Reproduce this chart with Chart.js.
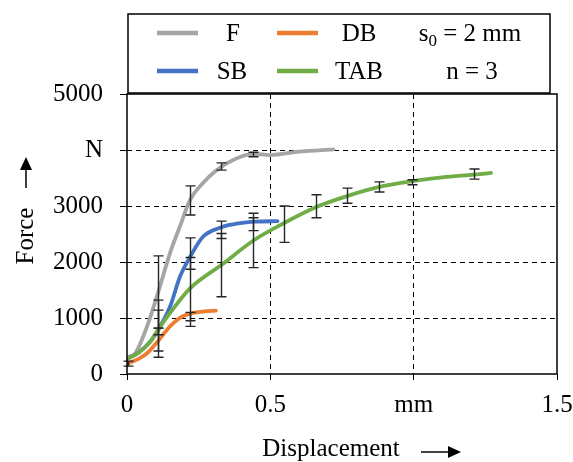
<!DOCTYPE html>
<html>
<head>
<meta charset="utf-8">
<script src="https://cdn.jsdelivr.net/npm/chart.js@4/dist/chart.umd.min.js"></script>
<style>
  html, body { margin: 0; padding: 0; background: #fff; }
  #wrap { width: 573px; height: 462px; }
</style>
</head>
<body>
<div id="wrap"><canvas id="myChart" width="573" height="462"></canvas></div>
<script>
(function () {
  "use strict";

  // axis ticks
  const xTickValues = [0, 0.5, 1, 1.5];
  const xTickLabels = ["0", "0.5", "mm", "1.5"];
  const yTickValues = [0, 1000, 2000, 3000, 4000, 5000];
  const yTickLabels = ["0", "1000", "2000", "3000", "N", "5000"];

  // series (displacement in mm, force in N)
  const seriesNames = ["F", "DB", "SB", "TAB"];

  const fX = [0, 0.03, 0.07, 0.11, 0.15, 0.185, 0.22, 0.265, 0.31, 0.37, 0.44, 0.5, 0.6, 0.72];
  const fY = [290, 380, 850, 1480, 2160, 2640, 3110, 3410, 3630, 3820, 3930, 3910, 3970, 4010];

  const dbX = [0, 0.04, 0.07, 0.11, 0.15, 0.19, 0.23, 0.27, 0.31];
  const dbY = [180, 270, 370, 600, 850, 1020, 1090, 1120, 1130];

  const sbX = [0, 0.04, 0.08, 0.11, 0.15, 0.185, 0.22, 0.265, 0.33, 0.39, 0.45, 0.525];
  const sbY = [270, 380, 570, 800, 1200, 1740, 2090, 2450, 2620, 2690, 2720, 2730];

  const tabX = [0, 0.04, 0.08, 0.11, 0.15, 0.22, 0.33, 0.44, 0.55, 0.66, 0.77, 0.88, 0.99, 1.1, 1.21, 1.27];
  const tabY = [270, 380, 570, 800, 1090, 1530, 1950, 2380, 2700, 2980, 3180, 3340, 3440, 3510, 3560, 3590];

  // error bars (x, lower, upper)
  const fErrX = [0.107, 0.221, 0.329, 0.439];
  const fErrLo = [700, 2840, 3640, 3880];
  const fErrHi = [2110, 3360, 3770, 3960];

  const dbErrX = [0.004, 0.107, 0.221];
  const dbErrLo = [140, 300, 850];
  const dbErrHi = [230, 820, 1100];

  const sbErrX = [0.107, 0.221, 0.329, 0.439];
  const sbErrLo = [410, 1870, 2420, 2560];
  const sbErrHi = [1320, 2430, 2730, 2870];

  const tabErrX = [0.107, 0.221, 0.329, 0.439, 0.549, 0.66, 0.767, 0.878, 0.993, 1.21];
  const tabErrLo = [820, 950, 1380, 1900, 2350, 2790, 3050, 3250, 3380, 3480];
  const tabErrHi = [1140, 2080, 2510, 2790, 3000, 3200, 3320, 3430, 3470, 3660];

  const colors = {
    F: "#a5a5a5",
    DB: "#ed7d31",
    SB: "#4472c4",
    TAB: "#70ad47",
  };

  const FONT = "'Liberation Serif', 'Times New Roman', serif";

  function pts(xs, ys) {
    return xs.map(function (x, i) { return { x: x, y: ys[i] }; });
  }

  const lineData = { F: pts(fX, fY), DB: pts(dbX, dbY), SB: pts(sbX, sbY), TAB: pts(tabX, tabY) };
  const errSets = [
    { x: fErrX, lo: fErrLo, hi: fErrHi },
    { x: dbErrX, lo: dbErrLo, hi: dbErrHi },
    { x: sbErrX, lo: sbErrLo, hi: sbErrHi },
    { x: tabErrX, lo: tabErrLo, hi: tabErrHi },
  ];

  // draw order: TAB under SB under DB, F on top
  const drawOrder = ["TAB", "SB", "DB", "F"];

  const datasets = drawOrder.map(function (name) {
    return {
      label: name,
      data: lineData[name],
      showLine: true,
      borderColor: colors[name],
      backgroundColor: colors[name],
      borderWidth: 3.8,
      pointRadius: 0,
      cubicInterpolationMode: "monotone",
      borderCapStyle: "round",
      fill: false,
    };
  });

  function arrow(ctx, x1, y1, x2, y2) {
    const ang = Math.atan2(y2 - y1, x2 - x1);
    const head = 13, half = 6;
    ctx.beginPath();
    ctx.moveTo(x1, y1);
    ctx.lineTo(x2 - head * Math.cos(ang), y2 - head * Math.sin(ang));
    ctx.lineWidth = 1.5;
    ctx.strokeStyle = "#000";
    ctx.stroke();
    ctx.beginPath();
    ctx.moveTo(x2, y2);
    ctx.lineTo(x2 - head * Math.cos(ang) + half * Math.sin(ang), y2 - head * Math.sin(ang) - half * Math.cos(ang));
    ctx.lineTo(x2 - head * Math.cos(ang) - half * Math.sin(ang), y2 - head * Math.sin(ang) + half * Math.cos(ang));
    ctx.closePath();
    ctx.fillStyle = "#000";
    ctx.fill();
  }

  const overlay = {
    id: "overlay",
    afterDatasetsDraw(chart) {
      const ctx = chart.ctx;
      const xs = chart.scales.x, ys = chart.scales.y;
      const a = chart.chartArea;

      // error bars
      ctx.save();
      ctx.strokeStyle = "#262626";
      ctx.lineWidth = 1.4;
      errSets.forEach(function (e) {
        e.x.forEach(function (xv, i) {
          const px = Math.round(xs.getPixelForValue(xv)) + 0.5;
          const y1 = ys.getPixelForValue(e.lo[i]);
          const y2 = ys.getPixelForValue(e.hi[i]);
          ctx.beginPath();
          ctx.moveTo(px, y1); ctx.lineTo(px, y2);
          ctx.moveTo(px - 5, y1); ctx.lineTo(px + 5, y1);
          ctx.moveTo(px - 5, y2); ctx.lineTo(px + 5, y2);
          ctx.stroke();
        });
      });
      ctx.restore();

      // plot frame
      ctx.save();
      ctx.strokeStyle = "#000";
      ctx.lineWidth = 1.5;
      ctx.strokeRect(a.left, a.top, a.right - a.left, a.bottom - a.top);

      // legend box
      const lb = { left: 128, top: 14, right: 550, bottom: 93 };
      ctx.strokeRect(lb.left, lb.top, lb.right - lb.left, lb.bottom - lb.top);
      const rows = [
        [{ n: "F", lx: 157, tx: 233, y: 33 }, { n: "DB", lx: 277, tx: 359, y: 33 }],
        [{ n: "SB", lx: 157, tx: 232, y: 71 }, { n: "TAB", lx: 277, tx: 359, y: 71 }],
      ];
      ctx.font = "25px " + FONT;
      ctx.textBaseline = "middle";
      ctx.textAlign = "center";
      rows.forEach(function (r) {
        r.forEach(function (it) {
          ctx.beginPath();
          ctx.moveTo(it.lx, it.y); ctx.lineTo(it.lx + 41, it.y);
          ctx.lineWidth = 4.5;
          ctx.strokeStyle = colors[it.n];
          ctx.stroke();
          ctx.fillStyle = "#000";
          ctx.fillText(it.n, it.tx, it.y + 1);
        });
      });
      // s0 = 2 mm
      ctx.textAlign = "left";
      const big = "25px " + FONT, small = "17px " + FONT;
      ctx.font = big; const w1 = ctx.measureText("s").width;
      ctx.font = small; const w2 = ctx.measureText("0").width;
      ctx.font = big; const w3 = ctx.measureText(" = 2 mm").width;
      let sx = 470 - (w1 + w2 + w3) / 2;
      ctx.fillStyle = "#000";
      ctx.font = big; ctx.fillText("s", sx, 34);
      ctx.font = small; ctx.fillText("0", sx + w1, 42);
      ctx.font = big; ctx.fillText(" = 2 mm", sx + w1 + w2, 34);
      ctx.textAlign = "center";
      ctx.fillText("n = 3", 472, 72);

      // axis titles with arrows
      ctx.font = "25px " + FONT;
      ctx.textAlign = "center";
      ctx.textBaseline = "middle";
      ctx.fillText("Displacement", 331, 449);
      arrow(ctx, 421, 452, 461, 452);

      ctx.save();
      ctx.translate(26, 236);
      ctx.rotate(-Math.PI / 2);
      ctx.fillText("Force", 0, 0);
      ctx.restore();
      arrow(ctx, 26, 188, 26, 157);
      ctx.restore();
    },
  };

  const edge = function (max) {
    return function (c) {
      return (c.tick && (c.tick.value === 0 || c.tick.value === max)) ? "rgba(0,0,0,0)" : "#000";
    };
  };

  const ctx = document.getElementById("myChart").getContext("2d");
  const myChart = new Chart(ctx, {
    type: "scatter",
    data: { datasets: datasets },
    options: {
      responsive: false,
      animation: false,
      devicePixelRatio: 1,
      layout: { padding: { left: 0, right: 16, top: 94, bottom: 0 } },
      plugins: { legend: { display: false }, tooltip: { enabled: false } },
      scales: {
        x: {
          type: "linear",
          min: 0,
          max: 1.5,
          afterFit: function (s) { s.height = 88; s.paddingLeft = 0; s.paddingRight = 0; },
          afterBuildTicks: function (s) { s.ticks = xTickValues.map(function (v) { return { value: v }; }); },
          ticks: {
            color: "#000",
            font: { family: FONT, size: 25 },
            padding: 10,
            maxRotation: 0,
            callback: function (v) {
              const i = xTickValues.indexOf(v);
              return i >= 0 ? xTickLabels[i] : "";
            },
          },
          grid: {
            color: edge(1.5),
            lineWidth: 1,
            tickColor: "#000",
            tickLength: 6,
            tickWidth: 1,
          },
          border: { display: false, dash: [5, 4] },
        },
        y: {
          type: "linear",
          min: 0,
          max: 5000,
          afterFit: function (s) { s.width = 127; s.paddingTop = 0; s.paddingBottom = 0; },
          afterBuildTicks: function (s) { s.ticks = yTickValues.map(function (v) { return { value: v }; }); },
          ticks: {
            color: "#000",
            font: { family: FONT, size: 25 },
            padding: 17,
            callback: function (v) {
              const i = yTickValues.indexOf(v);
              return i >= 0 ? yTickLabels[i] : "";
            },
          },
          grid: {
            color: edge(5000),
            lineWidth: 1,
            tickColor: "#000",
            tickLength: 7,
            tickWidth: 1,
          },
          border: { display: false, dash: [5, 4] },
        },
      },
    },
    plugins: [overlay],
  });
})();
</script>
</body>
</html>
